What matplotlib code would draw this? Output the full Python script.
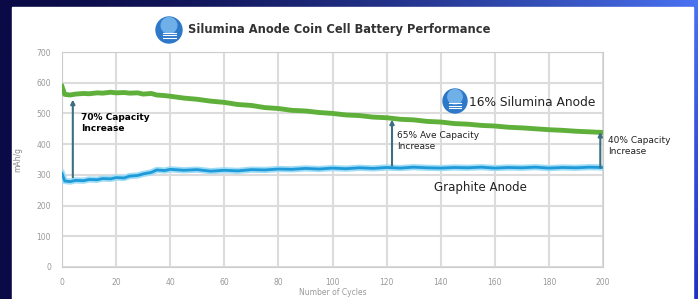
import numpy as np
import matplotlib.pyplot as plt
from matplotlib.patches import Circle, Rectangle

# cycle numbers and capacities (mAh/g)
cycles = [0, 1, 3, 5, 8, 10, 13, 15, 18, 20, 23, 25, 28, 30, 33, 35, 38, 40,
          45, 50, 55, 60, 65, 70, 75, 80, 85, 90, 95, 100, 105, 110, 115, 120,
          125, 130, 135, 140, 145, 150, 155, 160, 165, 170, 175, 180, 185, 190,
          195, 200]
silumina = [588, 562, 560, 563, 565, 564, 567, 566, 569, 567, 568, 566, 567, 563,
            565, 560, 558, 556, 550, 546, 540, 536, 529, 526, 519, 516, 510, 508,
            503, 500, 495, 493, 488, 486, 481, 479, 474, 472, 467, 465, 461, 459,
            455, 453, 450, 447, 445, 442, 440, 438]
graphite = [305, 280, 278, 282, 281, 285, 284, 288, 287, 291, 290, 296, 298, 303,
            308, 316, 314, 318, 315, 317, 312, 315, 313, 317, 316, 319, 318, 321,
            319, 322, 320, 323, 321, 324, 322, 325, 323, 322, 324, 323, 325, 322,
            324, 323, 325, 322, 324, 323, 325, 324]

xticks = [0, 20, 40, 60, 80, 100, 120, 140, 160, 180, 200]
yticks = [0, 100, 200, 300, 400, 500, 600, 700]

# arrows: cycle, bottom, top, label
arrows = [(4, 292, 545, "70% Capacity\nIncrease"),
          (122, 330, 480, "65% Ave Capacity\nIncrease"),
          (199, 323, 440, "40% Capacity\nIncrease")]

W, H = 698, 299
fig = plt.figure(figsize=(W / 100, H / 100), dpi=100)

# blue gradient background
bg = fig.add_axes([0, 0, 1, 1])
gx = np.linspace(0, 1, 200)
gy = np.linspace(0, 1, 100)
X, Y = np.meshgrid(gx, gy)
left = np.array([10, 10, 70]) / 255
rtop = np.array([74, 114, 242]) / 255
rbot = np.array([30, 48, 200]) / 255
t = X[..., None] ** 1.6
right = rtop * (1 - Y[..., None]) + rbot * Y[..., None]
img = left * (1 - t) + right * t
bg.imshow(img, aspect='auto', extent=[0, W, H, 0])
bg.add_patch(Rectangle((12, 7), 681, 300, color='white'))
bg.set_xlim(0, W)
bg.set_ylim(H, 0)
bg.axis('off')

# chart area
ax = fig.add_axes([62 / W, 1 - 267 / H, 541 / W, 215 / H])
ax.plot(cycles, graphite, color='#9fdcf5', lw=4.5, zorder=3)
ax.plot(cycles, graphite, color='#1e9ad8', lw=2, zorder=4)
ax.plot(cycles, silumina, color='#5fb03a', lw=3.5, zorder=4)

ax.set_xlim(0, 200)
ax.set_ylim(0, 700)
ax.set_xticks(xticks)
ax.set_yticks(yticks)
ax.tick_params(length=0, labelsize=5.5, labelcolor='#999999', pad=8)
ax.grid(True, color='#dcdcdc', lw=1.5)
ax.set_axisbelow(True)
for s in ax.spines.values():
    s.set_color('#cccccc')
ax.set_xlabel("Number of Cycles", fontsize=5.5, color='#999999', labelpad=0.5)
ax.set_ylabel("mAh/g", fontsize=5.5, color='#888888', labelpad=10)

for x, y0, y1, label in arrows:
    ax.annotate("", xy=(x, y1), xytext=(x, y0),
                arrowprops=dict(arrowstyle='-|>', color='#3d6f80', lw=1.5,
                                mutation_scale=6, shrinkA=0, shrinkB=0),
                zorder=5)

ax.text(7, 468, arrows[0][3], fontsize=6.5, fontweight='bold', va='center',
        ha='left', linespacing=1.3, zorder=6)
ax.text(124, 410, arrows[1][3], fontsize=6.5, va='center', ha='left',
        linespacing=1.3, color='#222222', zorder=6)
ax.text(202, 395, arrows[2][3], fontsize=6.5, va='center', ha='left',
        linespacing=1.3, color='#222222', clip_on=False, zorder=6)

# overlay for logos and series labels
ov = fig.add_axes([0, 0, 1, 1])
ov.patch.set_alpha(0)
ov.set_xlim(0, W)
ov.set_ylim(H, 0)
ov.axis('off')
for cx, cy, r in [(169, 30, 13), (455, 101, 12)]:
    ov.add_patch(Circle((cx, cy), r, color='#2d78c8'))
    ov.add_patch(Circle((cx, cy - r * 0.35), r * 0.6, color='#6fb0e8'))
    for k in range(3):
        ov.plot([cx - r * 0.5, cx + r * 0.5], [cy + r * (0.2 + 0.2 * k)] * 2,
                color='white', lw=0.8)

ov.text(188, 30, "Silumina Anode Coin Cell Battery Performance", fontsize=8.3,
        fontweight='bold', color='#333333', va='center', ha='left')
ov.text(469, 102, "16% Silumina Anode", fontsize=8.8, color='#222222',
        va='center', ha='left')
ov.text(480, 187, "Graphite Anode", fontsize=8.5, color='#222222',
        va='center', ha='center')

fig.savefig("out.png", dpi=100)
